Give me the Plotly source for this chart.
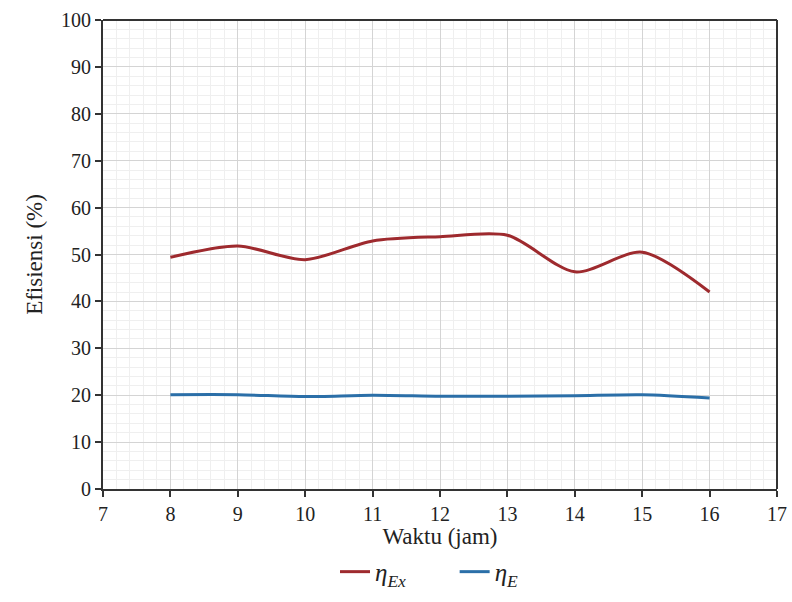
import plotly.graph_objects as go

jam = [8, 9, 10, 11, 12, 13, 14, 15, 16]
eta_ex = [49.4, 51.8, 48.9, 52.9, 53.8, 54.1, 46.3, 50.5, 42.0]
eta_e = [20.1, 20.1, 19.7, 20.0, 19.8, 19.8, 19.9, 20.1, 19.4]

font = "Liberation Serif, Times New Roman, serif"

fig = go.Figure()
fig.add_trace(go.Scatter(x=jam, y=eta_ex, mode="lines",
                         line=dict(color="#9E2A2E", width=3, shape="spline", smoothing=0.8),
                         name="<i>η</i><sub><i>Ex</i></sub>&nbsp;&nbsp;&nbsp;&nbsp;&nbsp;&nbsp;&nbsp;"))
fig.add_trace(go.Scatter(x=jam, y=eta_e, mode="lines",
                         line=dict(color="#2B6FA8", width=3, shape="spline", smoothing=0.8),
                         name="<i>η</i><sub><i>E</i></sub>"))

fig.update_layout(
    width=792, height=602,
    margin=dict(l=103, r=15, t=20, b=113, autoexpand=False),
    paper_bgcolor="white", plot_bgcolor="white",
    font=dict(family=font, size=19, color="#222"),
    showlegend=True,
    legend=dict(orientation="h", x=0.423, xanchor="left", xref="container",
                y=0.05, yanchor="middle", yref="container",
                font=dict(size=25, family=font), itemwidth=30),
    xaxis=dict(range=[7, 17], dtick=1, showgrid=True, gridcolor="#d4d4d4", gridwidth=1,
               minor=dict(dtick=0.2, showgrid=True, gridcolor="#efefef", gridwidth=1),
               showline=True, linecolor="#333", linewidth=2, mirror=False,
               ticks="outside", ticklen=6, tickcolor="#333", tickwidth=2,
               zeroline=False, automargin=False,
               tickfont=dict(size=20, family=font),
               title=dict(text="Waktu (jam)", font=dict(size=23, family=font), standoff=6)),
    yaxis=dict(range=[0, 100], dtick=10, showgrid=True, gridcolor="#d4d4d4", gridwidth=1,
               minor=dict(dtick=2, showgrid=True, gridcolor="#efefef", gridwidth=1),
               showline=True, linecolor="#333", linewidth=2, mirror=False,
               ticks="outside", ticklen=6, tickcolor="#333", tickwidth=2,
               zeroline=False, automargin=False,
               tickfont=dict(size=20, family=font),
               title=dict(text="Efisiensi (%)", font=dict(size=23, family=font), standoff=12)),
    shapes=[dict(type="line", xref="paper", yref="paper", x0=0, x1=1, y0=1, y1=1,
                 line=dict(color="#333", width=2)),
            dict(type="line", xref="paper", yref="paper", x0=1, x1=1, y0=0, y1=1,
                 line=dict(color="#333", width=2))],
)

fig.write_html("out.html")
